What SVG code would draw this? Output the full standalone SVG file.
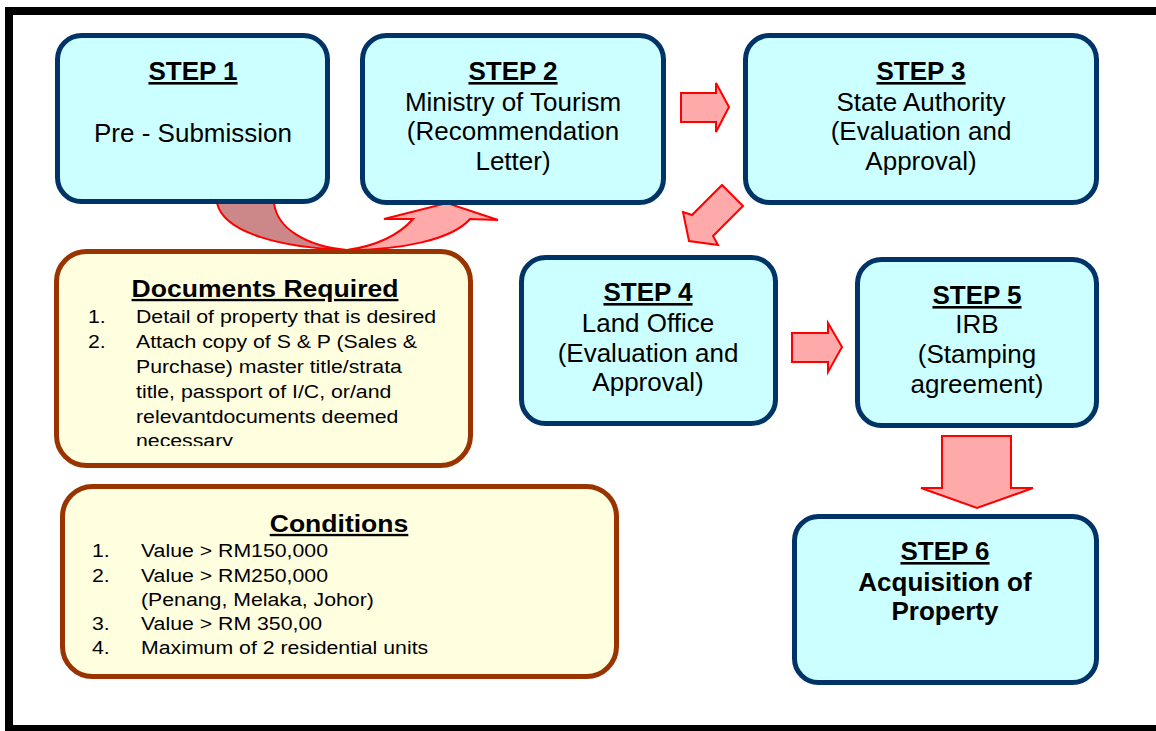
<svg xmlns="http://www.w3.org/2000/svg" width="1156" height="731" viewBox="0 0 1156 731">
<style>
.step{fill:#CCFFFF;stroke:#003366;stroke-width:5}
.note{fill:#FFFFE0;stroke:#993300;stroke-width:5}
.arr{fill:#FFAAAA;stroke:#FF0000;stroke-width:2;stroke-linejoin:miter}
.arrd{fill:#CC8888;stroke:#FF0000;stroke-width:2}
text{font-family:"Liberation Sans",Arial,sans-serif;fill:#000}
.t{font-size:26px;text-anchor:middle}
.h{font-size:26px;font-weight:bold;text-anchor:middle;text-decoration:underline}
.b{font-size:26px;font-weight:bold;text-anchor:middle}
.nh{font-size:23.5px;font-weight:bold;text-anchor:middle;text-decoration:underline}
.li{font-size:19px}
</style>
<defs>
<clipPath id="docclip"><rect x="55" y="250" width="420" height="196"/></clipPath>
</defs>
<rect width="1156" height="731" fill="#FFFFFF"/>
<rect x="9" y="11" width="1170" height="718" fill="none" stroke="#000" stroke-width="8"/>

<g id="connectors">
<path class="arrd" d="M217,203 L274,203 C277,228 305,246 347,250 C285,248 224,234 217,203 Z"/>
<path class="arr" d="M347,250 C400,250 452,240 470,219 L498,220 L447,203 L384,219 L413,219 C398,236 375,246 347,250 Z"/>
<path class="arr" d="M681,93 L716,93 L716,83 L729,107 L716,132 L716,122 L681,122 Z"/>
<path class="arr" d="M722,185 L743,206 L713,236 L718,245 L689,241 L683,212 L692,215 Z"/>
<path class="arr" d="M792,333 L828,333 L828,323 L842,347 L828,372 L828,362 L792,362 Z"/>
<path class="arr" d="M942,436 L1011,436 L1011,488 L1033,488 L977,508 L921,488 L942,488 Z"/>
</g>

<g id="step1">
<rect class="step" x="57.5" y="35.5" width="270" height="166" rx="24"/>
<text class="h" x="193" y="80">STEP 1</text>
<text class="t" x="193" y="142">Pre - Submission</text>
</g>

<g id="step2">
<rect class="step" x="362.5" y="35.5" width="301" height="167" rx="24"/>
<text class="h" x="513" y="80">STEP 2</text>
<text class="t" x="513" y="111">Ministry of Tourism</text>
<text class="t" x="513" y="140">(Recommendation</text>
<text class="t" x="513" y="170">Letter)</text>
</g>

<g id="step3">
<rect class="step" x="745.5" y="35.5" width="351" height="167" rx="24"/>
<text class="h" x="921" y="80">STEP 3</text>
<text class="t" x="921" y="111">State Authority</text>
<text class="t" x="921" y="140">(Evaluation and</text>
<text class="t" x="921" y="170">Approval)</text>
</g>

<g id="step4">
<rect class="step" x="521.5" y="257.5" width="254" height="166" rx="24"/>
<text class="h" x="648" y="301">STEP 4</text>
<text class="t" x="648" y="332">Land Office</text>
<text class="t" x="648" y="362">(Evaluation and</text>
<text class="t" x="648" y="391">Approval)</text>
</g>

<g id="step5">
<rect class="step" x="857.5" y="259.5" width="239" height="166" rx="24"/>
<text class="h" x="977" y="304">STEP 5</text>
<text class="t" x="977" y="333">IRB</text>
<text class="t" x="977" y="363">(Stamping</text>
<text class="t" x="977" y="393">agreement)</text>
</g>

<g id="step6">
<rect class="step" x="794.5" y="516.5" width="302" height="166" rx="24"/>
<text class="h" x="945" y="560">STEP 6</text>
<text class="b" x="945" y="591">Acquisition of</text>
<text class="b" x="945" y="620">Property</text>
</g>

<g id="documents">
<rect class="note" x="56.5" y="251.5" width="414" height="214" rx="30"/>
<text class="nh" x="0" y="297" transform="translate(265,0) scale(1.13,1)">Documents Required</text>
<g clip-path="url(#docclip)">
<g transform="translate(88,0) scale(1.12,1)">
<text class="li" x="0" y="323">1.</text>
<text class="li" x="0" y="348">2.</text>
</g>
<g transform="translate(136,0) scale(1.12,1)">
<text class="li" x="0" y="323">Detail of property that is desired</text>
<text class="li" x="0" y="348">Attach copy of S &amp; P (Sales &amp;</text>
<text class="li" x="0" y="373">Purchase) master title/strata</text>
<text class="li" x="0" y="398">title, passport of I/C, or/and</text>
<text class="li" x="0" y="423">relevantdocuments deemed</text>
<text class="li" x="0" y="447">necessary</text>
</g>
</g>
</g>

<g id="conditions">
<rect class="note" x="62.5" y="486.5" width="554" height="190" rx="30"/>
<text class="nh" x="0" y="532" transform="translate(339,0) scale(1.13,1)">Conditions</text>
<g transform="translate(92,0) scale(1.12,1)">
<text class="li" x="0" y="557">1.</text>
<text class="li" x="0" y="582">2.</text>
<text class="li" x="0" y="630">3.</text>
<text class="li" x="0" y="654">4.</text>
</g>
<g transform="translate(141,0) scale(1.12,1)">
<text class="li" x="0" y="557">Value &gt; RM150,000</text>
<text class="li" x="0" y="582">Value &gt; RM250,000</text>
<text class="li" x="0" y="606">(Penang, Melaka, Johor)</text>
<text class="li" x="0" y="630">Value &gt; RM 350,00</text>
<text class="li" x="0" y="654">Maximum of 2 residential units</text>
</g>
</g>
</svg>
